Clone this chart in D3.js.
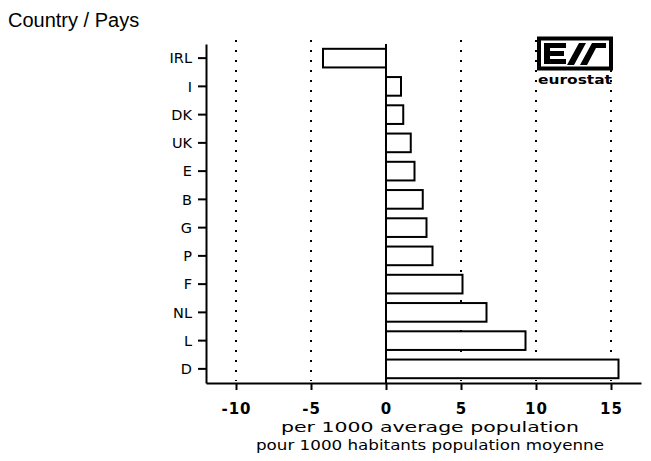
<!DOCTYPE html>
<html><head><meta charset="utf-8">
<script src="https://cdn.jsdelivr.net/npm/d3@7"></script>
<style>body{margin:0;background:#fff}svg{display:block}</style>
</head><body>
<svg id="c" width="651" height="461"></svg>
<script>
const categories = ["IRL","I","DK","UK","E","B","G","P","F","NL","L","D"];
const values = [-4.2, 1.0, 1.15, 1.65, 1.9, 2.45, 2.7, 3.1, 5.1, 6.7, 9.3, 15.5];
const xTicks = [-10, -5, 0, 5, 10, 15];
const gridTicks = [-10, -5, 5, 10, 15];
const yTitle = "Country / Pays";
const xTitle = ["per 1000 average population", "pour 1000 habitants population moyenne"];

(function () {
const svg = d3.select("#c");
const mLeft = 206, mRight = 641, mTop = 44, mBottom = 383;
const x = d3.scaleLinear().domain([-12, 17]).range([mLeft, mRight]);
const y = d3.scaleBand().domain(categories).range([mTop, mBottom]).paddingInner(0.34).paddingOuter(0.17);
const font = "DejaVu Sans, sans-serif";

// grid
svg.append("g").selectAll("line").data(gridTicks).join("line")
  .attr("x1", d => x(d)).attr("x2", d => x(d))
  .attr("y1", mTop - 4).attr("y2", mBottom - 2)
  .attr("stroke", "#000").attr("stroke-width", 2)
  .attr("stroke-dasharray", "2,8");

// bars
svg.append("g").selectAll("rect").data(values).join("rect")
  .attr("x", d => x(Math.min(0, d)))
  .attr("width", d => Math.abs(x(d) - x(0)))
  .attr("y", (d, i) => y(categories[i]))
  .attr("height", y.bandwidth())
  .attr("fill", "#fff").attr("stroke", "#000").attr("stroke-width", 2);

// zero line
svg.append("line").attr("x1", x(0)).attr("x2", x(0)).attr("y1", mTop).attr("y2", mBottom)
  .attr("stroke", "#000").attr("stroke-width", 2);

// x axis
const xa = svg.append("g").attr("transform", `translate(0,${mBottom})`)
  .call(d3.axisBottom(x).tickValues(xTicks).tickSize(7).tickSizeOuter(0).tickFormat(d => d < 0 ? "-" + Math.abs(d) : d));
xa.select(".domain").attr("stroke-width", 2);
xa.selectAll(".tick line").attr("stroke-width", 2);
xa.selectAll("text").attr("font-family", font).attr("font-size", 15).attr("font-weight", "bold")
  .attr("y", 20).attr("dy", "0.71em").attr("letter-spacing", 1);

// y axis
const ya = svg.append("g").attr("transform", `translate(${mLeft},0)`)
  .call(d3.axisLeft(y).tickSize(8).tickSizeOuter(0));
ya.select(".domain").attr("stroke-width", 2);
ya.selectAll(".tick line").attr("stroke-width", 2);
ya.selectAll("text").attr("font-family", font).attr("font-size", 14.5).attr("x", -14).attr("dy", "0.36em");

// titles
svg.append("text").attr("x", 8).attr("y", 27).attr("font-family", "Liberation Sans, Arial, sans-serif")
  .attr("font-size", 20).text(yTitle);
svg.selectAll("text.xt").data(xTitle).join("text").attr("class", "xt")
  .attr("x", 430).attr("y", (d, i) => 432 + i * 18).attr("text-anchor", "middle")
  .attr("font-family", font).attr("font-size", 14.5)
  .attr("textLength", (d, i) => i === 0 ? 298 : 348).attr("lengthAdjust", "spacingAndGlyphs")
  .text(d => d);

// eurostat logo
const lg = svg.append("g");
lg.append("rect").attr("x", 539).attr("y", 38.5).attr("width", 72).attr("height", 30)
  .attr("fill", "#fff").attr("stroke", "#000").attr("stroke-width", 4);
lg.append("path").attr("fill", "#000").attr("d",
  "M544,43h22v5h-16v3h14v5h-14v3h16v5h-22z" +
  "M567,65l12,-22h7l-12,22z" +
  "M580,65l12,-22h14v5h-10l-9,17z");
lg.append("text").attr("x", 575).attr("y", 84).attr("text-anchor", "middle")
  .attr("font-family", font).attr("font-weight", "bold").attr("font-size", 13)
  .attr("textLength", 74).attr("lengthAdjust", "spacingAndGlyphs").text("eurostat");
})();
</script>
</body></html>
